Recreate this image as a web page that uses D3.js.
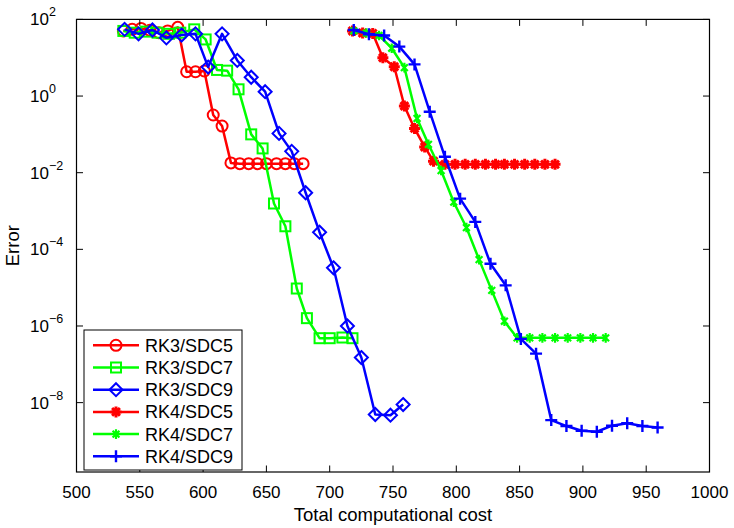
<!DOCTYPE html>
<html><head><meta charset="utf-8">
<script src="https://cdn.jsdelivr.net/npm/d3@7"></script>
<style>body{margin:0;background:#fff}svg{display:block}text{font-family:"Liberation Sans",Arial,Helvetica,sans-serif}</style>
</head><body>
<script>
// ---- data ----
const seriesNames = ["RK3/SDC5","RK3/SDC7","RK3/SDC9","RK4/SDC5","RK4/SDC7","RK4/SDC9"];
const rk3sdc5_x = [537,544,551,558,565,572,580,587,594,601,608,615,622,629,636,643,650,658,665,672,679];
const rk3sdc5_y = [50,55,58,52,45,50,62,4.3,4.3,4.5,0.32,0.165,0.018,0.0172,0.0172,0.0172,0.0172,0.0172,0.0172,0.0172,0.0172];
const rk3sdc7_x = [537,546,555,564,573,582,593,602,611,619,628,638,647,656,665,674,682,692,700,710,718];
const rk3sdc7_y = [50,45,48,45,42,45,55,30,4.8,4.6,1.5,0.10,0.043,1.57e-3,4.0e-4,9.5e-6,1.6e-6,4.8e-7,4.8e-7,5.0e-7,4.8e-7];
const rk3sdc9_x = [538,549,560,571,583,594,604,615,627,638,649,660,670,681,692,703,714,725,736,748,758];
const rk3sdc9_y = [55,42,53,33,39,42,5.7,42,8.5,3.1,1.3,0.106,0.036,3.0e-3,2.8e-4,3.3e-5,1.0e-6,1.5e-7,4.9e-9,4.7e-9,8.9e-9];
const rk4sdc5_x = [718,726,734,742,751,759,767,775,782,791,799,807,815,823,831,838,846,854,862,870,878];
const rk4sdc5_y = [50,44,43,10,5.8,0.55,0.143,0.047,0.020,0.0165,0.0165,0.0165,0.0165,0.0165,0.0165,0.0165,0.0165,0.0165,0.0165,0.0165,0.0165];
const rk4sdc7_x = [719,729,739,749,759,769,778,788,798,808,818,828,838,848,858,868,878,888,898,908,918];
const rk4sdc7_y = [50,44,38,17.7,5.5,0.26,0.055,0.0114,1.7e-3,3.7e-4,5.4e-5,8.5e-6,1.33e-6,4.9e-7,4.9e-7,4.9e-7,4.9e-7,4.9e-7,4.9e-7,4.9e-7,4.9e-7];
const rk4sdc9_x = [719,731,743,755,767,779,791,803,815,827,839,851,863,875,887,899,911,923,935,947,959];
const rk4sdc9_y = [53,41,38,19.5,6.7,0.39,0.026,2.1e-3,5.2e-4,4.2e-5,1.15e-5,4.6e-7,1.9e-7,3.5e-9,2.45e-9,1.85e-9,1.74e-9,2.5e-9,2.9e-9,2.45e-9,2.25e-9];
const xTicks = [500,550,600,650,700,750,800,850,900,950,1000];
const yTickExps = [2,0,-2,-4,-6,-8];
const xTitle = "Total computational cost";
const yTitle = "Error";

const W = 734, H = 528;
const L = 76.5, R = 709.5, T = 19.4, B = 472;
const svg = d3.select("body").append("svg").attr("width", W).attr("height", H);
const x = d3.scaleLinear().domain([500,1000]).range([L,R]);
const y = d3.scaleLog().domain([Math.pow(10,-9.81),100]).range([B,T]);

const colors = ["#ff0000","#00ff00","#0000ff","#ff0000","#00ff00","#0000ff"];
const markers = ["circle","square","diamond","star","xstar","plus"];
const xs = [rk3sdc5_x,rk3sdc7_x,rk3sdc9_x,rk4sdc5_x,rk4sdc7_x,rk4sdc9_x];
const ys = [rk3sdc5_y,rk3sdc7_y,rk3sdc9_y,rk4sdc5_y,rk4sdc7_y,rk4sdc9_y];

function drawMarker(g, type, cx, cy, col) {
  if (type === "circle") {
    g.append("circle").attr("cx",cx).attr("cy",cy).attr("r",5.5).attr("fill","none").attr("stroke",col).attr("stroke-width",2);
  } else if (type === "square") {
    g.append("rect").attr("x",cx-5).attr("y",cy-5).attr("width",10).attr("height",10).attr("fill","none").attr("stroke",col).attr("stroke-width",2);
  } else if (type === "diamond") {
    const d = 6.5;
    g.append("path").attr("d",`M${cx},${cy-d}L${cx+d},${cy}L${cx},${cy+d}L${cx-d},${cy}Z`).attr("fill","none").attr("stroke",col).attr("stroke-width",2);
  } else if (type === "star") {
    const d = 5.5, e = d*0.7071;
    g.append("path").attr("d",`M${cx-d},${cy}L${cx+d},${cy}M${cx},${cy-d}L${cx},${cy+d}M${cx-e},${cy-e}L${cx+e},${cy+e}M${cx-e},${cy+e}L${cx+e},${cy-e}`)
      .attr("stroke",col).attr("stroke-width",3).attr("fill","none");
  } else if (type === "xstar") {
    const d = 4.8, e = d*0.7071;
    g.append("path").attr("d",`M${cx},${cy-d}L${cx},${cy+d}M${cx-e},${cy-e}L${cx+e},${cy+e}M${cx-e},${cy+e}L${cx+e},${cy-e}`)
      .attr("stroke",col).attr("stroke-width",2.2).attr("fill","none");
  } else if (type === "plus") {
    const d = 6;
    g.append("path").attr("d",`M${cx-d},${cy}L${cx+d},${cy}M${cx},${cy-d}L${cx},${cy+d}`)
      .attr("stroke",col).attr("stroke-width",2.4).attr("fill","none");
  }
}

// series
const line = d3.line().x(d=>x(d[0])).y(d=>y(d[1]));
xs.forEach((xv,i)=>{
  const pts = xv.map((v,j)=>[v, ys[i][j]]);
  const g = svg.append("g");
  g.append("path").attr("d", line(pts)).attr("fill","none").attr("stroke",colors[i]).attr("stroke-width",2.5).attr("stroke-linejoin","round");
  pts.forEach(p=>drawMarker(g, markers[i], x(p[0]), y(p[1]), colors[i]));
});

// axes box
const ax = svg.append("g");
ax.append("rect").attr("x",L).attr("y",T).attr("width",R-L).attr("height",B-T).attr("fill","none").attr("stroke","#000").attr("stroke-width",1.2);
const tl = 6.5;
xTicks.forEach(v=>{
  const px = x(v);
  ax.append("line").attr("x1",px).attr("x2",px).attr("y1",B).attr("y2",B-tl).attr("stroke","#000");
  ax.append("line").attr("x1",px).attr("x2",px).attr("y1",T).attr("y2",T+tl).attr("stroke","#000");
  ax.append("text").attr("x",px).attr("y",B+26).attr("text-anchor","middle").attr("font-size",17).text(v);
});
yTickExps.forEach(e=>{
  const py = y(Math.pow(10,e));
  ax.append("line").attr("x1",L).attr("x2",L+tl).attr("y1",py).attr("y2",py).attr("stroke","#000");
  ax.append("line").attr("x1",R).attr("x2",R-tl).attr("y1",py).attr("y2",py).attr("stroke","#000");
  const t = ax.append("text").attr("x",30).attr("y",py+6).attr("font-size",17);
  t.append("tspan").text("10");
  t.append("tspan").attr("dy",-9).attr("font-size",12.5).text(e<0 ? "\u2212"+(-e) : String(e));
});
svg.append("text").attr("x",(L+R)/2).attr("y",521).attr("text-anchor","middle").attr("font-size",18.5).text(xTitle);
svg.append("text").attr("transform",`translate(19,${(T+B)/2}) rotate(-90)`).attr("text-anchor","middle").attr("font-size",18.5).text(yTitle);

// legend
const lg = svg.append("g");
lg.append("rect").attr("x",84).attr("y",330).attr("width",158).attr("height",140).attr("fill","#fff").attr("stroke","#000").attr("stroke-width",1);
seriesNames.forEach((n,i)=>{
  const cy = 345.3 + i*22.2;
  lg.append("line").attr("x1",93).attr("x2",139).attr("y1",cy).attr("y2",cy).attr("stroke",colors[i]).attr("stroke-width",2.5);
  drawMarker(lg, markers[i], 116, cy, colors[i]);
  lg.append("text").attr("x",145).attr("y",cy+6.5).attr("font-size",18).text(n);
});
</script>
</body></html>
